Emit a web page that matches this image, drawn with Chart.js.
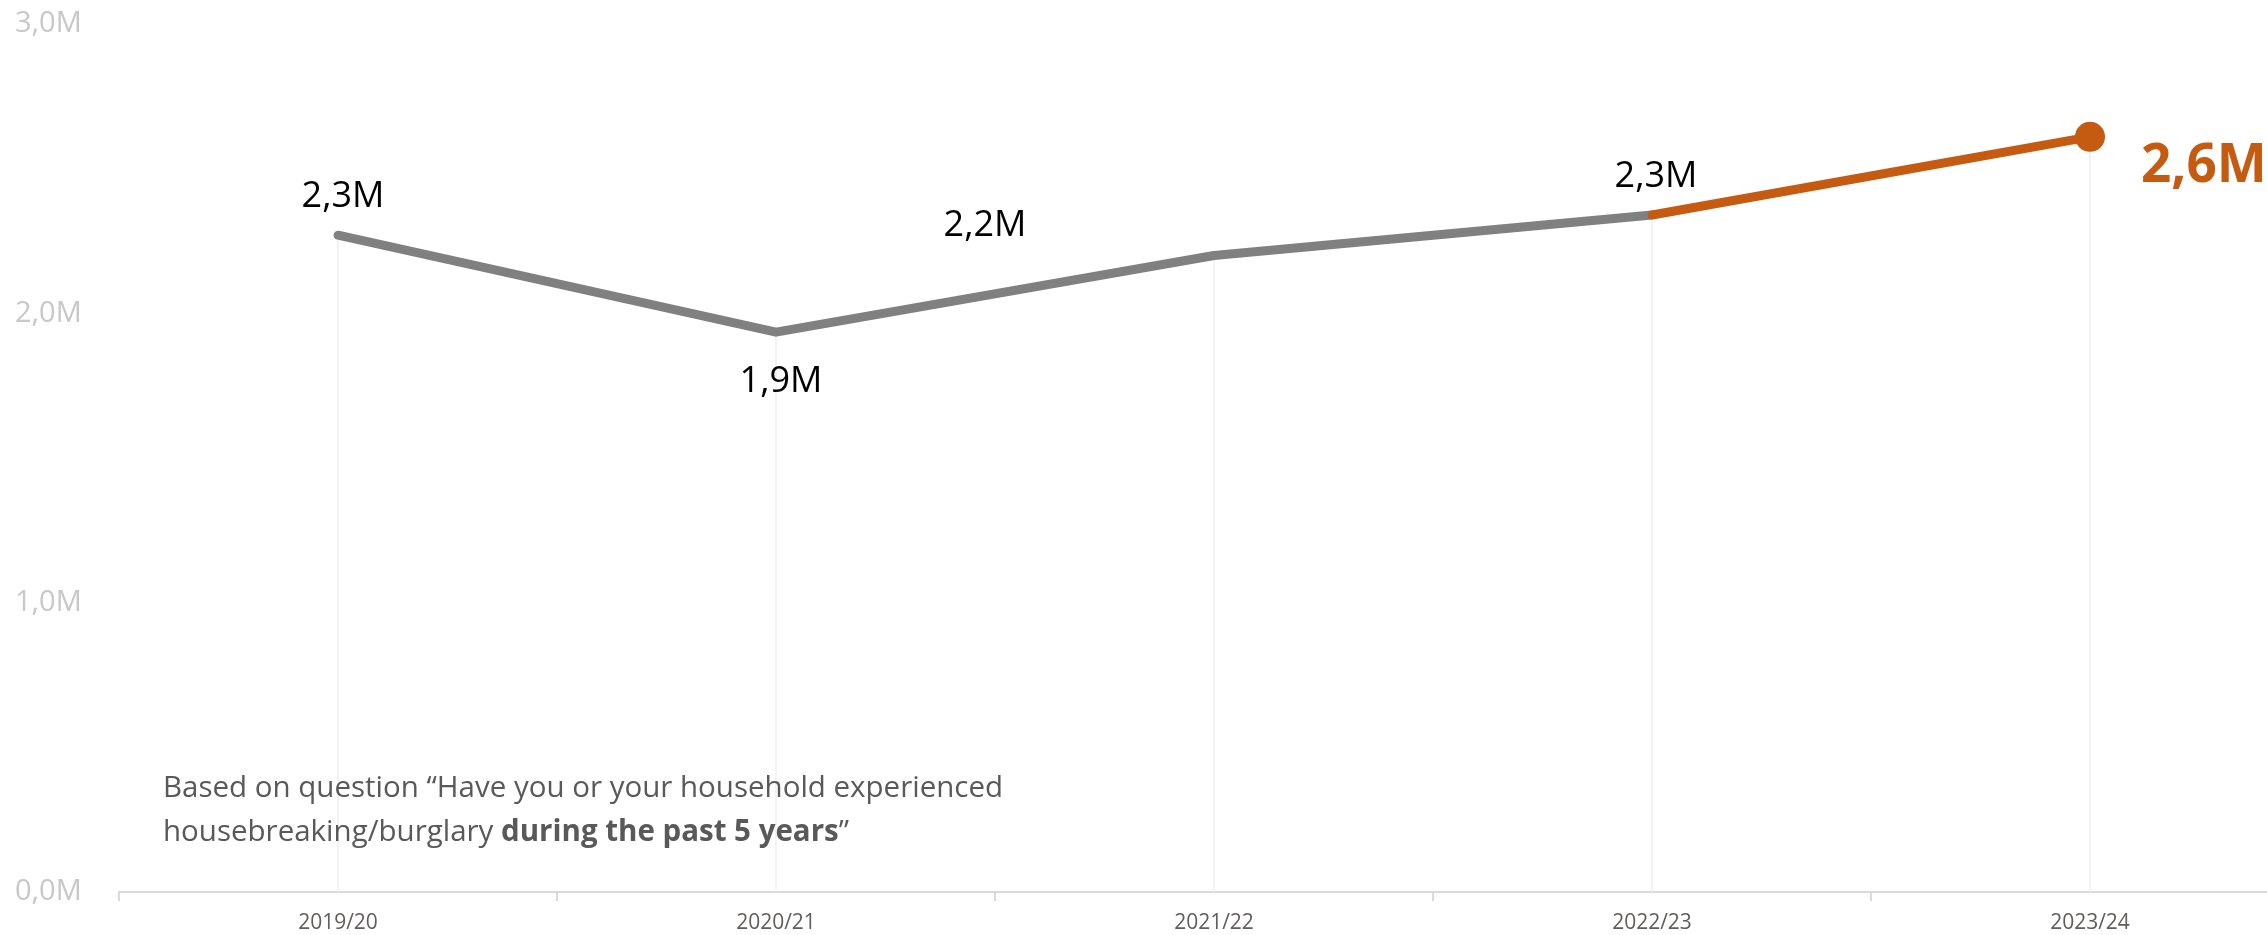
<!DOCTYPE html>
<html>
<head>
<meta charset="utf-8">
<script src="https://cdn.jsdelivr.net/npm/chart.js"></script>
<style>
  html, body { margin: 0; padding: 0; background: #fff; overflow: hidden; }
  #wrap { position: relative; width: 2324px; height: 935px; }
  #note {
    position: absolute; left: 163px; top: 764px;
    font-family: "Open Sans", sans-serif; font-size: 29.5px; line-height: 44px;
    color: #595959; white-space: nowrap;
  }
  #note b { font-weight: 700; }
</style>
</head>
<body>
<div id="wrap">
  <canvas id="burglaryChart" width="2324" height="935"></canvas>
  <div id="note">Based on question “Have you or your household experienced<br>housebreaking/burglary <b>during the past 5 years</b>”</div>
</div>
<script>
// values in millions
const years = ['2019/20', '2020/21', '2021/22', '2022/23', '2023/24'];
const households = [2.27, 1.935, 2.20, 2.34, 2.61];
const yTicks = [0, 1, 2, 3];

const GREY = '#808080';
const ORANGE = '#C55A11';

const fmtM = v => v.toFixed(1).replace('.', ',') + 'M';

// label placement relative to each point (dx, dy to baseline)
const labelOffsets = [
    { dx: 5, dy: -28, align: 'center' },
    { dx: 5, dy: 60, align: 'center' },
    { dx: -229, dy: -19, align: 'center' },
    { dx: 4, dy: -28, align: 'center' },
    { dx: 51, dy: 45, align: 'left' }
];

const dropLines = {
    id: 'dropLines',
    beforeDatasetsDraw(chart) {
        const ctx = chart.ctx;
        const bottom = chart.chartArea.bottom;
        ctx.save();
        ctx.strokeStyle = '#efefef';
        ctx.lineWidth = 1.5;
        chart.getDatasetMeta(0).data.forEach(pt => {
            ctx.beginPath();
            ctx.moveTo(pt.x, pt.y);
            ctx.lineTo(pt.x, bottom);
            ctx.stroke();
        });
        ctx.restore();
    }
};

const valueLabels = {
    id: 'valueLabels',
    afterDatasetsDraw(chart) {
        const ctx = chart.ctx;
        const last = households.length - 1;
        ctx.save();
        ctx.textBaseline = 'alphabetic';
        chart.getDatasetMeta(0).data.forEach((pt, i) => {
            const off = labelOffsets[i];
            if (i === last) {
                ctx.font = 'bold 53px "Open Sans", sans-serif';
                ctx.fillStyle = ORANGE;
            } else {
                ctx.font = '36px "Open Sans", sans-serif';
                ctx.fillStyle = '#000';
            }
            ctx.textAlign = off.align;
            ctx.fillText(fmtM(households[i]), pt.x + off.dx, pt.y + off.dy);
        });
        ctx.restore();
    }
};

new Chart(document.getElementById('burglaryChart'), {
    type: 'line',
    data: {
        labels: years,
        datasets: [{
            data: households,
            borderColor: GREY,
            borderWidth: 9,
            borderCapStyle: 'round',
            borderJoinStyle: 'round',
            tension: 0,
            fill: false,
            segment: {
                borderColor: c => c.p1DataIndex === households.length - 1 ? ORANGE : GREY
            },
            pointRadius: households.map((v, i) => i === households.length - 1 ? 15 : 0),
            pointBackgroundColor: ORANGE,
            pointBorderWidth: 0
        }]
    },
    options: {
        responsive: false,
        animation: false,
        devicePixelRatio: 1,
        layout: { padding: { left: 15, top: 24, right: 0, bottom: 0 } },
        plugins: {
            legend: { display: false },
            tooltip: { enabled: false }
        },
        scales: {
            x: {
                offset: true,
                grid: {
                    offset: true,
                    drawOnChartArea: false,
                    drawTicks: true,
                    tickLength: 9,
                    color: '#d9d9d9',
                    lineWidth: 2
                },
                border: { display: true, color: '#d9d9d9', width: 2 },
                ticks: {
                    color: '#605e5c',
                    padding: 9,
                    font: { family: '"Open Sans", sans-serif', size: 21 }
                },
                afterFit: s => { s.height = 43; }
            },
            y: {
                min: 0,
                max: 3,
                grid: { display: false },
                border: { display: false },
                afterBuildTicks: s => { s.ticks = yTicks.map(v => ({ value: v })); },
                ticks: {
                    crossAlign: 'far',
                    color: '#c8c8c8',
                    font: { family: '"Open Sans", sans-serif', size: 29 },
                    callback: v => fmtM(v)
                },
                afterFit: s => { s.width = 104; }
            }
        }
    },
    plugins: [dropLines, valueLabels]
});
</script>
</body>
</html>
